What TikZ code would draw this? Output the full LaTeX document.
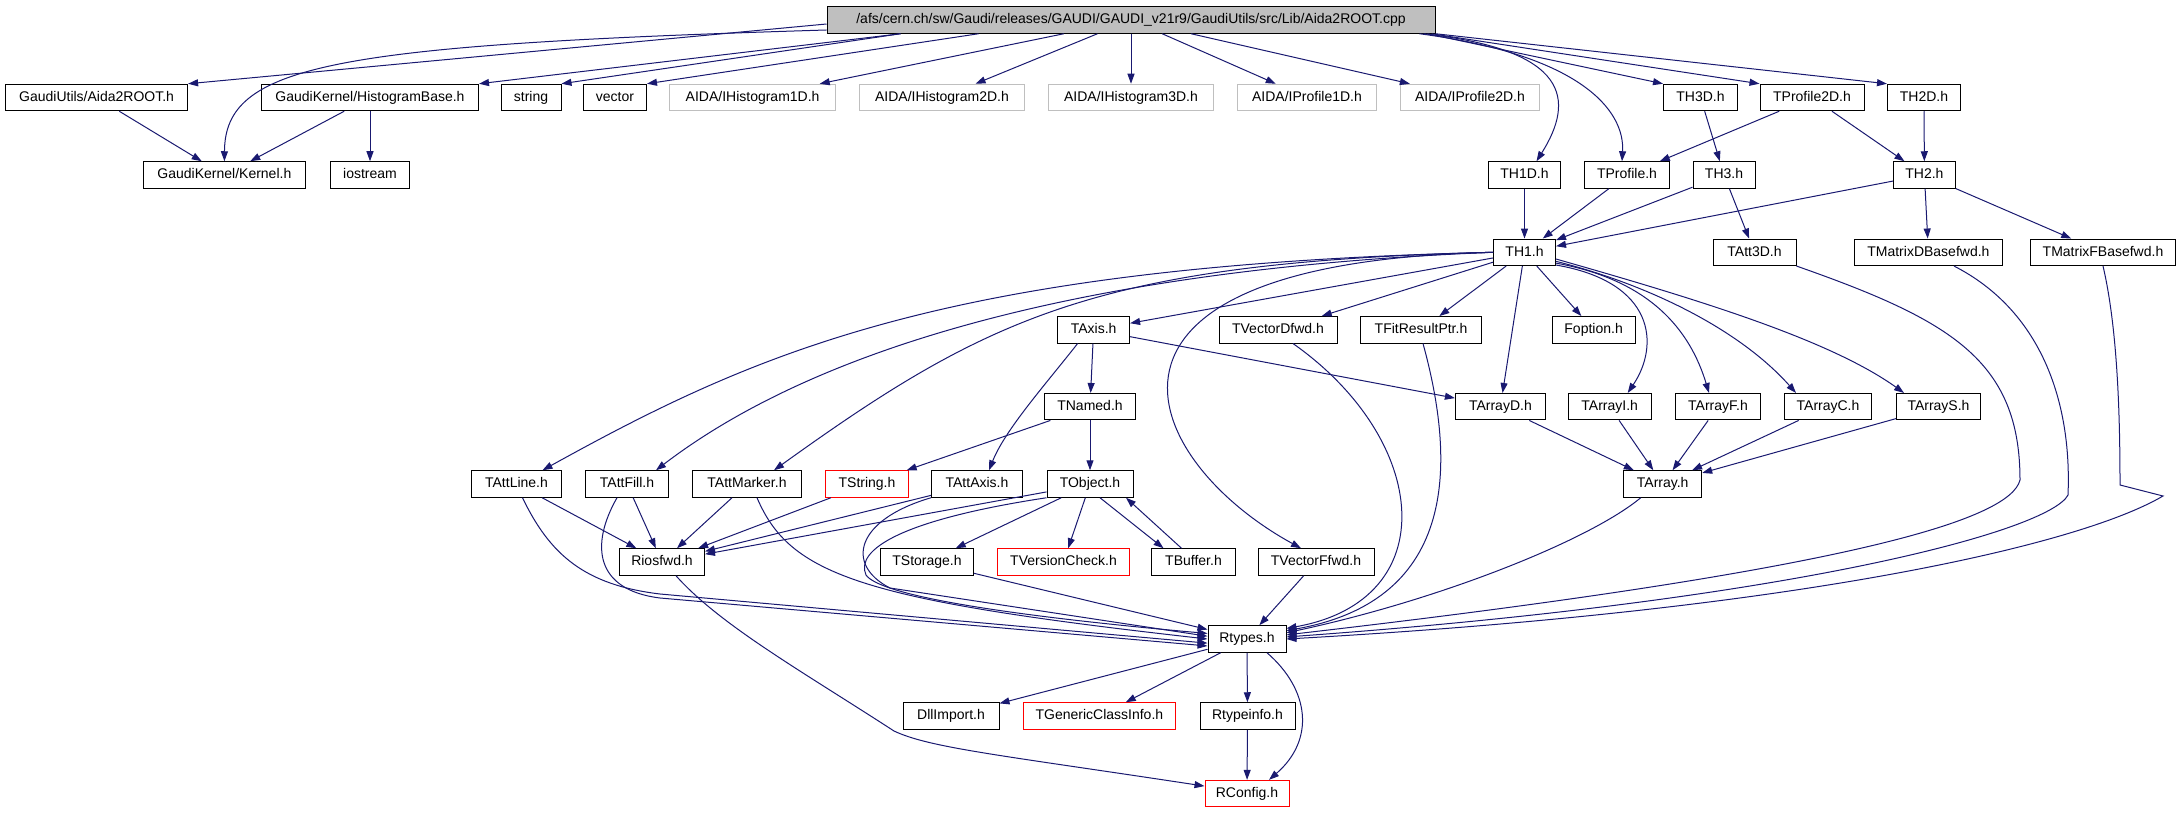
\documentclass[tikz,border=0pt]{standalone}
\usepackage{fontspec}
\setmainfont{Liberation Sans}
\usetikzlibrary{arrows.meta}
\definecolor{edgeblue}{HTML}{191970}
\definecolor{extgray}{HTML}{BFBFBF}

\begin{document}
\begin{tikzpicture}[x=0.5pt,y=-0.5pt]
\tikzstyle{hdr}=[
	draw=black,
	line width=0.5pt,
	fill=white,
	minimum height=13.25pt,
	inner xsep=1pt,
	inner ysep=0pt,
	text height=5.2pt,
	text depth=1.4pt,
	font=\fontsize{7}{8}\selectfont ]
\tikzstyle{root}=[hdr, fill=extgray]
\tikzstyle{ext}=[hdr, draw=extgray]
\tikzstyle{trunc}=[hdr, draw=red]
\tikzstyle{dep}=[draw=edgeblue, line width=0.5pt, -{Triangle[length=5pt,width=3.5pt]}]
\useasboundingbox (0,0) rectangle (2180,813);

\node[root, minimum width=304pt] (main) at (1131,20) {/afs/cern.ch/sw/Gaudi/releases/GAUDI/GAUDI\_v21r9/GaudiUtils/src/Lib/Aida2ROOT.cpp};

\node[hdr, minimum width=91pt] (aida2root) at (96.6,97.5) {GaudiUtils/Aida2ROOT.h};
\node[hdr, minimum width=108.5pt] (histbase) at (370,97.5) {GaudiKernel/HistogramBase.h};
\node[hdr, minimum width=30pt] (string) at (531,97.5) {string};
\node[hdr, minimum width=31.5pt] (vector) at (615,97.5) {vector};
\node[ext, minimum width=83pt] (ihist1d) at (752.6,97.5) {AIDA/IHistogram1D.h};
\node[ext, minimum width=82.5pt] (ihist2d) at (942,97.5) {AIDA/IHistogram2D.h};
\node[ext, minimum width=82.5pt] (ihist3d) at (1131,97.5) {AIDA/IHistogram3D.h};
\node[ext, minimum width=69.5pt] (iprof1d) at (1307,97.5) {AIDA/IProfile1D.h};
\node[ext, minimum width=69.5pt] (iprof2d) at (1470,97.5) {AIDA/IProfile2D.h};
\node[hdr, minimum width=37pt] (th3d) at (1700.5,97.5) {TH3D.h};
\node[hdr, minimum width=52pt] (tprof2d) at (1812,97.5) {TProfile2D.h};
\node[hdr, minimum width=36.5pt] (th2d) at (1924,97.5) {TH2D.h};

\node[hdr, minimum width=81pt] (kernel) at (224.4,175) {GaudiKernel/Kernel.h};
\node[hdr, minimum width=39.5pt] (iostream) at (370,175) {iostream};
\node[hdr, minimum width=36pt] (th1d) at (1524.5,175) {TH1D.h};
\node[hdr, minimum width=42.5pt] (tprof) at (1627,175) {TProfile.h};
\node[hdr, minimum width=31pt] (th3) at (1724,175) {TH3.h};
\node[hdr, minimum width=31pt] (th2) at (1924.4,175) {TH2.h};

\node[hdr, minimum width=31pt] (th1) at (1524.5,252.3) {TH1.h};
\node[hdr, minimum width=41.5pt] (tatt3d) at (1754.5,252.3) {TAtt3D.h};
\node[hdr, minimum width=74pt] (tmatd) at (1928.4,252.3) {TMatrixDBasefwd.h};
\node[hdr, minimum width=72.5pt] (tmatf) at (2103,252.3) {TMatrixFBasefwd.h};

\node[hdr, minimum width=36pt] (taxis) at (1093.6,329.8) {TAxis.h};
\node[hdr, minimum width=59pt] (tvecd) at (1278,329.8) {TVectorDfwd.h};
\node[hdr, minimum width=60.5pt] (tfit) at (1421,329.8) {TFitResultPtr.h};
\node[hdr, minimum width=41.5pt] (foption) at (1593.6,329.8) {Foption.h};

\node[hdr, minimum width=45.5pt] (tnamed) at (1090,406.7) {TNamed.h};
\node[hdr, minimum width=45pt] (tarrd) at (1500.4,406.7) {TArrayD.h};
\node[hdr, minimum width=41.5pt] (tarri) at (1609.7,406.7) {TArrayI.h};
\node[hdr, minimum width=42.5pt] (tarrf) at (1718,406.7) {TArrayF.h};
\node[hdr, minimum width=43.5pt] (tarrc) at (1828,406.7) {TArrayC.h};
\node[hdr, minimum width=42pt] (tarrs) at (1938.5,406.7) {TArrayS.h};

\node[hdr, minimum width=45pt] (tattline) at (516.5,484) {TAttLine.h};
\node[hdr, minimum width=41.5pt] (tattfill) at (627,484) {TAttFill.h};
\node[hdr, minimum width=54.5pt] (tattmarker) at (747,484) {TAttMarker.h};
\node[trunc, minimum width=41.5pt] (tstring) at (867,484) {TString.h};
\node[hdr, minimum width=45.5pt] (tattaxis) at (977,484) {TAttAxis.h};
\node[hdr, minimum width=43pt] (tobject) at (1090,484) {TObject.h};
\node[hdr, minimum width=39pt] (tarray) at (1662.7,484) {TArray.h};

\node[hdr, minimum width=42.5pt] (riosfwd) at (662,562) {Riosfwd.h};
\node[hdr, minimum width=46.5pt] (tstorage) at (927,562) {TStorage.h};
\node[trunc, minimum width=66pt] (tversion) at (1063.5,562) {TVersionCheck.h};
\node[hdr, minimum width=42pt] (tbuffer) at (1193.5,562) {TBuffer.h};
\node[hdr, minimum width=58pt] (tvecf) at (1316,562) {TVectorFfwd.h};

\node[hdr, minimum width=39pt] (rtypes) at (1247,639) {Rtypes.h};

\node[hdr, minimum width=48pt] (dllimport) at (951,716) {DllImport.h};
\node[trunc, minimum width=76pt] (tgeneric) at (1099.4,716) {TGenericClassInfo.h};
\node[hdr, minimum width=47.5pt] (rtypeinfo) at (1247.5,716) {Rtypeinfo.h};

\node[trunc, minimum width=42pt] (rconfig) at (1247,793.6) {RConfig.h};

\draw[dep] ([yshift=-2pt]main.west) -- (aida2root.north east);
\draw[dep] ([yshift=-5pt]main.west) .. controls (330,45) and (225,65) .. (kernel.north);
\draw[dep] ([xshift=37pt]main.south west) -- (histbase.north east);
\draw[dep] ([xshift=37pt]main.south west) -- (string.north east);
\draw[dep] ([xshift=76pt]main.south west) -- (vector.north east);
\draw[dep] (main) -- (ihist1d);
\draw[dep] (main) -- (ihist2d);
\draw[dep] (main) -- (ihist3d);
\draw[dep] (main) -- (iprof1d);
\draw[dep] (main) -- (iprof2d);
\draw[dep] ([xshift=-4pt]main.south east) -- (th3d.north west);
\draw[dep] ([xshift=-2pt]main.south east) -- (tprof2d.north west);
\draw[dep] (main.south east) -- (th2d.north west);
\draw[dep] ([xshift=-6pt]main.south east) .. controls (1570,50) and (1575,100) .. ([xshift=6pt]th1d.north);
\draw[dep] ([xshift=-8pt]main.south east) .. controls (1580,55) and (1625,110) .. ([xshift=-2.5pt]tprof.north);

\draw[dep] (aida2root) -- (kernel);
\draw[dep] (histbase) -- (kernel);
\draw[dep] (histbase) -- (iostream);
\draw[dep] (th3d) -- (th3);
\draw[dep] (tprof2d) -- (tprof);
\draw[dep] (tprof2d) -- (th2);
\draw[dep] (th2d) -- (th2);
\draw[dep] (th1d) -- (th1);
\draw[dep] (tprof) -- (th1);
\draw[dep] (th3) -- (th1);
\draw[dep] (th3) -- (tatt3d);
\draw[dep] (th2) -- (th1);
\draw[dep] (th2) -- (tmatd);
\draw[dep] (th2) -- (tmatf);

\draw[dep] (th1.west) .. controls (950,265) and (760,350) .. ([xshift=13pt]tattline.north);
\draw[dep] (th1.west) .. controls (1050,270) and (800,360) .. ([xshift=14.5pt]tattfill.north);
\draw[dep] (th1.west) .. controls (1100,262) and (990,315) .. ([xshift=13.5pt]tattmarker.north);
\draw[dep] (th1.west) .. controls (1050,262) and (1140,460) .. ([xshift=-7.5pt]tvecf.north);
\draw[dep] (th1) -- (taxis);
\draw[dep] (th1) -- (tvecd);
\draw[dep] (th1) -- (tfit);
\draw[dep] (th1) -- (foption);
\draw[dep] (th1) -- (tarrd);
\draw[dep] (th1.338) .. controls (1655,282) and (1660,345) .. ([xshift=9pt]tarri.north);
\draw[dep] (th1.341) .. controls (1650,280) and (1690,330) .. ([xshift=-4.5pt]tarrf.north);
\draw[dep] (th1.344) .. controls (1650,285) and (1740,330) .. ([xshift=-16pt]tarrc.north);
\draw[dep] (th1.348) .. controls (1700,300) and (1830,340) .. ([xshift=4pt]tarrs.north west);

\draw[dep] (taxis) -- (tnamed);
\draw[dep] ([xshift=-8pt]taxis.south) .. controls (1045,385) and (1005,430) .. ([xshift=6pt]tattaxis.north);
\draw[dep] (taxis) -- (tarrd);
\draw[dep] (tnamed) -- (tstring);
\draw[dep] (tnamed) -- (tobject);

\draw[dep] (tattline) -- (riosfwd);
\draw[dep] ([xshift=3pt]tattline.south) .. controls (550,555) and (585,585) .. (660,594) -- (rtypes.186);
\draw[dep] (tattfill) -- (riosfwd);
\draw[dep] ([xshift=-5pt]tattfill.south) .. controls (590,545) and (595,590) .. (660,598) -- (rtypes.190);
\draw[dep] (tattmarker) -- (riosfwd);
\draw[dep] ([xshift=5pt]tattmarker.south) .. controls (790,575) and (860,600) .. (rtypes.180);
\draw[dep] (tstring) -- (riosfwd);
\draw[dep] (tattaxis) -- (riosfwd);
\draw[dep] (tattaxis.south west) .. controls (855,520) and (845,565) .. (890,588) -- (rtypes.176);
\draw[dep] (tobject) -- (riosfwd);
\draw[dep] (tobject.south west) .. controls (900,520) and (855,550) .. (866,575) .. controls (880,595) and (1000,615) .. (rtypes.172);
\draw[dep] (tobject) -- (tstorage);
\draw[dep] (tobject) -- (tversion);
\draw[dep] ([xshift=5pt]tobject.south) -- ([xshift=-15pt]tbuffer.north);
\draw[dep] ([xshift=-6pt]tbuffer.north) -- ([xshift=18pt]tobject.south);
\draw[dep] (tstorage) -- (rtypes);
\draw[dep] (tvecf) -- (rtypes);
\draw[dep] ([xshift=7.5pt]tvecd.south) .. controls (1430,440) and (1445,600) .. (rtypes.15);
\draw[dep] ([xshift=1pt]tfit.south) .. controls (1455,460) and (1460,600) .. (rtypes.12);

\draw[dep] (tarrd) -- (tarray);
\draw[dep] (tarri) -- (tarray);
\draw[dep] (tarrf) -- (tarray);
\draw[dep] (tarrc) -- (tarray);
\draw[dep] (tarrs) -- (tarray);
\draw[dep] ([xshift=-11pt]tarray.south) .. controls (1590,540) and (1440,600) .. (rtypes.9);
\draw[dep] (tatt3d.south east) .. controls (1950,320) and (2020,360) .. (2020,480) .. controls (2010,520) and (1850,570) .. (rtypes.6);
\draw[dep] ([xshift=12.8pt]tmatd.south) .. controls (2040,310) and (2072,400) .. (2068,495) .. controls (2050,530) and (1800,600) .. (rtypes.3);
\draw[dep] (tmatf.south) .. controls (2118,330) and (2120,420) .. (2120,485) -- (2163,496) .. controls (2080,545) and (1800,610) .. (rtypes.east);

\draw[dep] ([xshift=7pt]riosfwd.south) .. controls (720,625) and (800,670) .. (894,731) .. controls (930,748) and (1000,755) .. (rconfig.170);
\draw[dep] (rtypes) -- (dllimport);
\draw[dep] (rtypes) -- (tgeneric);
\draw[dep] (rtypes) -- (rtypeinfo);
\draw[dep] ([xshift=10pt]rtypes.south) .. controls (1310,690) and (1315,740) .. ([xshift=11pt]rconfig.north);
\draw[dep] (rtypeinfo) -- (rconfig);
\end{tikzpicture}
\end{document}
